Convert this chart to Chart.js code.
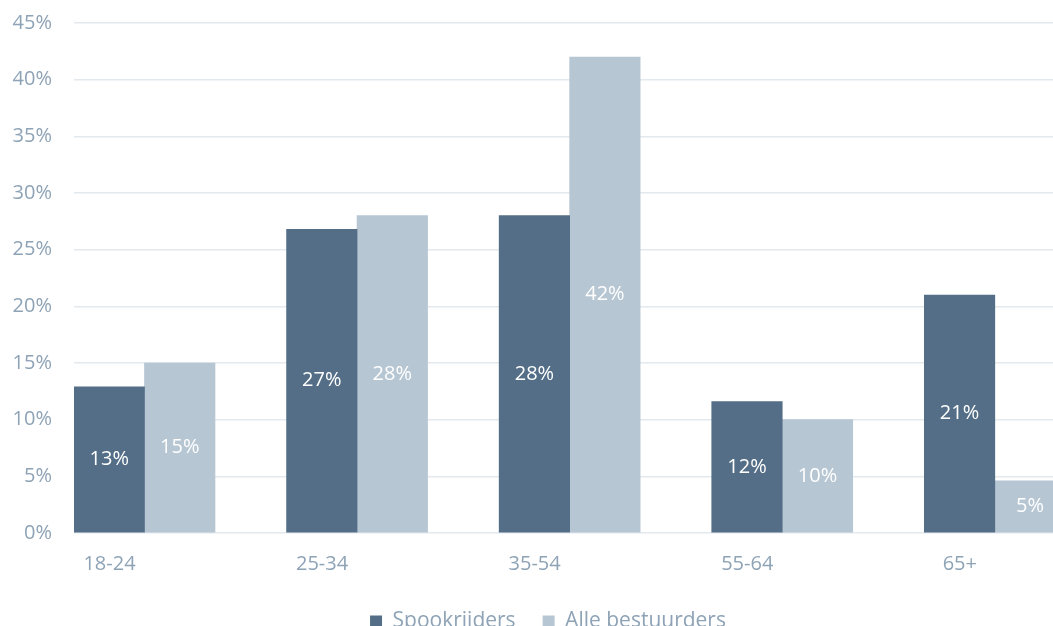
<!DOCTYPE html>
<html>
<head>
<meta charset="utf-8">
<script src="https://cdn.jsdelivr.net/npm/chart.js@4.4.1/dist/chart.umd.min.js"></script>
<style>
  html, body { margin: 0; padding: 0; background: #fff; overflow: hidden; }
  #wrap { width: 1096px; height: 653px; margin-top: -11px; position: relative; }
</style>
</head>
<body>
<div id="wrap"><canvas id="ageChart"></canvas></div>
<script>
//----------------------
// Data
//----------------------

const categories = ['18-24', '25-34', '35-54', '55-64', '65+'];
const spookrijders = [12.9, 26.8, 28.0, 11.6, 21.0];
const alleBestuurders = [15.0, 28.0, 42.0, 10.0, 4.6];
const yTicks = [0, 5, 10, 15, 20, 25, 30, 35, 40, 45];

const darkBlue = '#536e86';
const lightBlue = '#b7c6d3';
const textColor = '#8ea3b6';
const gridColor = '#e4e9ee';

Chart.defaults.font.family = "'Open Sans', 'DejaVu Sans', sans-serif";
Chart.defaults.font.size = 20;
Chart.defaults.color = textColor;

// write the value in the middle of each bar
const barValues = {
    id: 'barValues',
    afterDatasetsDraw(chart) {
        const ctx = chart.ctx;
        ctx.save();
        ctx.fillStyle = '#ffffff';
        ctx.font = "20px 'Open Sans', 'DejaVu Sans', sans-serif";
        ctx.textAlign = 'center';
        ctx.textBaseline = 'middle';
        chart.data.datasets.forEach((ds, i) => {
            chart.getDatasetMeta(i).data.forEach((bar, j) => {
                const mid = (bar.y + bar.base) / 2;
                ctx.fillText(Math.round(ds.data[j].y) + '%', bar.x, mid);
            });
        });
        ctx.restore();
    }
};

const toPoints = (values) => values.map((v, i) => ({ x: i, y: v }));

const ctx = document.getElementById('ageChart').getContext('2d');
const chart = new Chart(ctx, {
    type: 'bar',
    data: {
        datasets: [{
            label: 'Spookrijders',
            backgroundColor: darkBlue,
            data: toPoints(spookrijders)
        }, {
            label: 'Alle bestuurders',
            backgroundColor: lightBlue,
            data: toPoints(alleBestuurders)
        }]
    },
    options: {
        responsive: true,
        maintainAspectRatio: false,
        animation: false,
        barThickness: 70.5,
        layout: { autoPadding: false, padding: { top: 13, left: 0, right: 0, bottom: 0 } },
        plugins: {
            tooltip: { enabled: false },
            legend: {
                position: 'bottom',
                labels: {
                    boxWidth: 12,
                    boxHeight: 12,
                    padding: 27,
                    color: textColor,
                    font: { size: 21 }
                }
            }
        },
        scales: {
            x: {
                type: 'linear',
                offset: false,
                min: -0.3316,
                max: 4.476,
                grid: { display: false, offset: false },
                border: { display: false },
                afterBuildTicks: (scale) => {
                    scale.ticks = categories.map((c, i) => ({ value: i }));
                },
                afterFit: (scale) => { scale.height = 51; },
                ticks: {
                    autoSkip: false,
                    maxRotation: 0,
                    labelOffset: -35,
                    padding: 11,
                    color: textColor,
                    callback: (v) => categories[Math.round(v)]
                }
            },
            y: {
                min: 0,
                max: 45,
                grid: { color: gridColor, lineWidth: 1.5, drawTicks: false },
                border: { display: false },
                afterBuildTicks: (scale) => {
                    scale.ticks = yTicks.map((v) => ({ value: v }));
                },
                afterFit: (scale) => { scale.width = 74; },
                ticks: {
                    padding: 22,
                    color: textColor,
                    callback: (v) => v + '%'
                }
            }
        }
    },
    plugins: [barValues]
});
</script>
</body>
</html>
